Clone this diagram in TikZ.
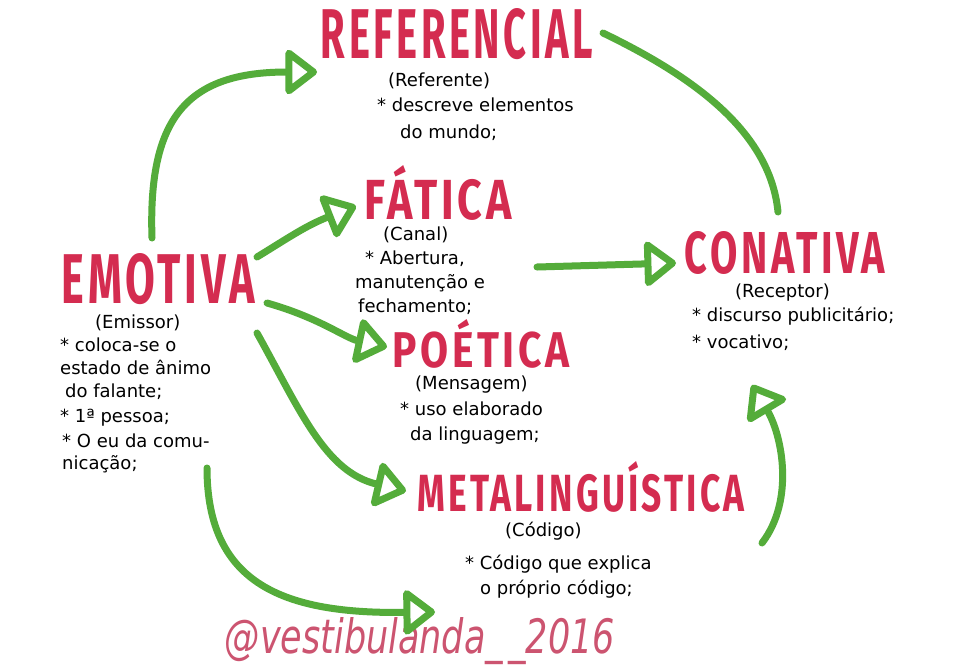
\documentclass[tikz,border=0pt]{standalone}
\usepackage{fontspec}
\usepackage{graphicx}
\usetikzlibrary{arrows.meta}
\setmainfont{DejaVu Sans}
\newfontfamily\titlefont{Fira Sans}[LetterSpace=9]
\definecolor{marker}{RGB}{212,44,80}
\definecolor{leaf}{RGB}{84,172,58}
\definecolor{tag}{RGB}{204,84,112}
% heading set to a fixed width and height
\newcommand{\heading}[3]{\resizebox{#1}{#2}{\titlefont\bfseries #3}}

\begin{document}
\begin{tikzpicture}[x=1pt,y=-1pt,
  title/.style={text=marker, inner sep=0pt},
  hand/.style={font=\fontsize{18}{20}\selectfont, inner sep=0pt, anchor=west,
               text height=12pt, text depth=4pt},
  link/.style={draw=leaf, line width=7pt, line cap=round, line join=round,
               -{Triangle[open,length=34pt,width=50pt,round]}},
  bare link/.style={draw=leaf, line width=7pt, line cap=round}]

\fill[white] (0,0) rectangle (960,670);
\useasboundingbox (0,0) rectangle (960,670);

% function headings
\node[title] (ref)  at (457,34)  {\heading{272pt}{50pt}{REFERENCIAL}};
\node[title] (fat)  at (438,193) {\heading{147pt}{54pt}{FÁTICA}};
\node[title] (emo)  at (158,279) {\heading{193pt}{50pt}{EMOTIVA}};
\node[title] (con)  at (785,253) {\heading{200pt}{42pt}{CONATIVA}};
\node[title] (poe)  at (481,344) {\heading{177pt}{48pt}{POÉTICA}};
\node[title] (meta) at (581,487) {\heading{327pt}{50pt}{METALINGUÍSTICA}};

% notes under each heading
\node[hand] (ref1) at (388,82)  {(Referente)};
\node[hand] (ref2) at (377,107) {* descreve elementos};
\node[hand] (ref3) at (400,134) {do mundo;};

\node[hand] (fat1) at (383,236) {(Canal)};
\node[hand] (fat2) at (365,260) {* Abertura,};
\node[hand] (fat3) at (355,284) {manutenção e};
\node[hand] (fat4) at (358,308) {fechamento;};

\node[hand] (con1) at (735,293) {(Receptor)};
\node[hand] (con2) at (692,317) {* discurso publicitário;};
\node[hand] (con3) at (692,344) {* vocativo;};

\node[hand] (emo1) at (95,324)  {(Emissor)};
\node[hand] (emo2) at (60,347)  {* coloca-se o};
\node[hand] (emo3) at (60,370)  {estado de ânimo};
\node[hand] (emo4) at (65,393)  {do falante;};
\node[hand] (emo5) at (60,418)  {* 1ª pessoa;};
\node[hand] (emo6) at (62,443)  {* O eu da comu-};
\node[hand] (emo7) at (62,465)  {nicação;};

\node[hand] (poe1) at (415,385) {(Mensagem)};
\node[hand] (poe2) at (400,411) {* uso elaborado};
\node[hand] (poe3) at (410,436) {da linguagem;};

\node[hand] (meta1) at (505,532) {(Código)};
\node[hand] (meta2) at (465,565) {* Código que explica};
\node[hand] (meta3) at (480,590) {o próprio código;};

% signature
\node[text=tag, inner sep=0pt] (sig) at (420,641)
  {\resizebox{390pt}{36pt}{\rmfamily\itshape @vestibulanda\_\kern1.5pt\_2016}};

% arrow ends
\coordinate (emoTop)   at (152,238);
\coordinate (emoRight) at (257,257);
\coordinate (emoMid)   at (267,303);
\coordinate (emoLow)   at (257,333);
\coordinate (emoBase)  at (207,468);
\coordinate (refIn)    at (317,72);
\coordinate (fatIn)    at (356,206);
\coordinate (poeIn)    at (387,347);
\coordinate (metaIn)   at (406,491);
\coordinate (bottomIn) at (435,612);
\coordinate (fatOut)   at (537,267);
\coordinate (conIn)    at (676,263);
\coordinate (refOut)   at (603,33);
\coordinate (conTop)   at (778,212);
\coordinate (metaOut)  at (762,543);
\coordinate (conLow)   at (752,385);

% connectors
\draw[link] (emoTop) .. controls (148,120) and (185,72) .. (refIn);
\draw[link] (emoRight) .. controls (285,240) and (305,226) .. (fatIn);
\draw[link] (emoMid) .. controls (320,318) and (345,338) .. (poeIn);
\draw[link] (emoLow) .. controls (300,410) and (325,472) .. (metaIn);
\draw[link] (emoBase) .. controls (207,585) and (285,614) .. (bottomIn);
\draw[link] (fatOut) -- (conIn);
\draw[bare link] (refOut) .. controls (690,75) and (770,130) .. (conTop);
\draw[link] (metaOut) .. controls (795,500) and (782,435) .. (conLow);
\end{tikzpicture}
\end{document}
